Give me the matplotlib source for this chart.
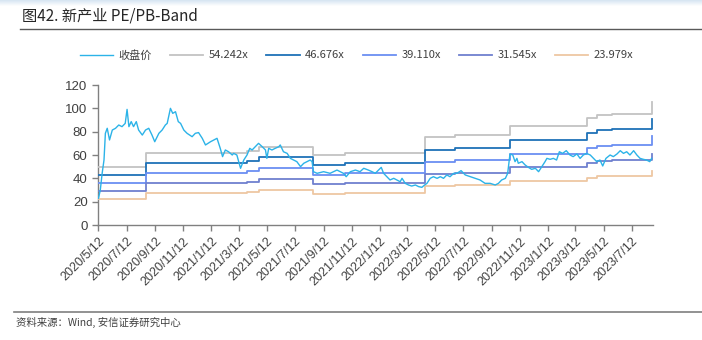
import numpy as np
import pandas as pd
import matplotlib
matplotlib.use("Agg")
import matplotlib.pyplot as plt
import matplotlib.dates as mdates

# Start date of the series; price points are stored as day offsets from it
start = pd.Timestamp("2020-05-12")

# Closing price (收盘价): day offset and value
price_day = [0, 4, 8, 12, 15, 19, 24, 30, 37, 44, 51, 58, 62, 66, 71, 76, 82, 87, 95,
             102, 109, 116, 122, 131, 138, 145, 149, 156, 161, 167, 173, 178, 185, 192,
             203, 210, 217, 225, 232, 243, 250, 257, 264, 269, 275, 282, 290,
             293, 300, 308, 315, 322, 328, 333, 340, 347, 355, 362, 365, 369, 376, 383,
             391, 394, 401, 409, 416, 423, 430, 438, 445, 452, 459, 463, 466, 474, 488,
             502, 517, 531, 537, 546, 557, 567, 575, 585, 593, 600, 607, 613, 618, 625,
             632, 640, 647, 654, 658, 665, 672, 679, 687, 694, 701, 707, 712, 719, 726,
             734, 741, 748, 755, 762, 770, 777, 786, 795, 806, 817, 827, 838, 849, 860,
             867, 874, 882, 887, 892, 898, 903, 907, 910, 918, 925, 932, 939, 947, 954,
             961, 968, 972, 979, 986, 993, 999, 1006, 1014, 1022, 1029, 1037, 1044, 1051,
             1058, 1066, 1073, 1080, 1087, 1093, 1100, 1109, 1116, 1124, 1131, 1138, 1145,
             1152, 1160, 1167, 1174, 1181, 1188, 1195, 1199]
price = [22.9, 30.0, 44.3, 55.7, 78.6, 82.9, 72.9, 81.4, 82.9, 85.7, 84.3, 87.1, 99.1,
         84.3, 88.6, 84.3, 88.6, 81.4, 77.1,
         81.4, 82.9, 77.1, 71.4, 78.6, 81.4, 85.7, 87.1, 100.0, 95.7, 97.1, 88.6, 87.1,
         81.4, 78.6, 75.7, 78.6, 79.2, 74.3, 68.6, 71.4, 72.9, 74.3, 65.7, 58.6, 64.3,
         62.8, 60.0,
         61.4, 60.0, 48.6, 55.7, 60.0, 65.7, 64.3, 67.1, 70.0, 67.1, 64.3, 57.1, 65.7,
         64.3, 65.7, 67.1, 68.6, 62.8, 61.4, 57.1, 55.7, 54.3, 50.0, 52.9, 54.3, 55.7,
         54.3, 45.7, 44.3, 45.7, 44.3, 47.1, 44.3, 41.4, 45.7, 47.1, 45.7, 48.6,
         47.1, 45.7, 44.3, 47.1, 49.4, 44.3, 41.4, 38.6, 40.0, 38.6, 37.1, 40.0, 35.7,
         34.3, 33.4, 34.3, 32.9, 32.3, 34.3, 35.7, 40.0, 41.4, 40.0, 41.4, 40.0, 42.9,
         41.4, 44.3, 44.3, 46.6, 42.9, 41.4, 40.0, 38.6, 35.7, 35.7, 34.3, 35.7, 38.6,
         40.0, 44.3, 60.9, 60.0, 54.3, 57.1, 52.9, 54.3, 51.4, 49.4, 47.7, 48.6, 45.7,
         50.0, 54.3, 57.1, 56.3, 57.1, 55.7, 62.8, 61.4, 63.7, 60.0, 58.6, 60.9, 57.1,
         60.0, 61.4, 60.0, 57.1, 54.3, 55.7, 50.6, 57.1, 60.0, 58.6, 60.9, 63.7, 61.4,
         62.8, 60.0, 63.7, 60.0, 57.1, 56.3, 55.7, 54.3, 57.1]

# Per-share base (EPS) used for the bands, as steps
base_dates = ["2020-05-12", "2020-08-22", "2020-10-15", "2021-03-31", "2021-04-26",
              "2021-08-20", "2021-10-29", "2022-04-20", "2022-06-24", "2022-10-20",
              "2023-04-07", "2023-04-27", "2023-05-30", "2023-08-25"]
base_eps = [0.915, 1.13, 1.145, 1.175, 1.24, 1.105, 1.135, 1.385, 1.415, 1.565,
            1.69, 1.74, 1.76, 1.94]

# Band multiples from the legend
multiples = [54.242, 46.676, 39.110, 31.545, 23.979]
band_labels = ["54.242x", "46.676x", "39.110x", "31.545x", "23.979x"]
band_colors = ["#c3c3c3", "#1f72b8", "#6b8ff2", "#6f80cf", "#eec7a2"]

dates = start + pd.to_timedelta(price_day, unit="D")
bdates = pd.to_datetime(base_dates)
eps = np.array(base_eps)

cjk = ["Noto Sans CJK SC", "DejaVu Sans"]
num_font = ["Liberation Sans", "DejaVu Sans"]

fig = plt.figure(figsize=(7.02, 3.40), dpi=100)
ax = fig.add_axes([98 / 702, 1 - 225 / 340, 555 / 702, 140 / 340])

# Price line
ax.plot(dates, price, color="#2cb3e8", lw=1.0, label="收盘价", zorder=5)

# PE bands
for m, lab, c in zip(multiples, band_labels, band_colors):
    ax.step(bdates, eps * m, where="post", color=c, lw=1.3, label=lab, zorder=3)

ax.set_ylim(0, 120)
ax.set_yticks(range(0, 121, 20))
ax.set_xlim(pd.Timestamp("2020-05-11"), pd.Timestamp("2023-08-27"))
ax.xaxis.set_major_locator(mdates.MonthLocator(bymonth=[1, 3, 5, 7, 9, 11], bymonthday=12))
ax.xaxis.set_major_formatter(mdates.DateFormatter("%Y/%-m/%-d"))

for s in ["top", "right"]:
    ax.spines[s].set_visible(False)
for s in ["left", "bottom"]:
    ax.spines[s].set_color("#808080")
    ax.spines[s].set_linewidth(1.0)

ax.tick_params(axis="both", colors="#808080", length=4, width=1.0, labelsize=9.5,
               labelcolor="#404040")
ax.tick_params(axis="x", labelsize=9)
for lbl in ax.get_yticklabels():
    lbl.set_family(num_font)
for lbl in ax.get_xticklabels():
    lbl.set_family(num_font)
    lbl.set_rotation(45)
    lbl.set_ha("right")
    lbl.set_rotation_mode("anchor")

# Legend across the top
fig.legend(loc="center", bbox_to_anchor=(0.508, 1 - 55 / 340), ncol=6, frameon=False,
           prop={"family": cjk, "size": 8}, handlelength=3.0, handletextpad=0.5,
           columnspacing=1.6, labelcolor="#404040")

# Light header strip
hdr = fig.add_axes([0, 1 - 6 / 340, 1, 6 / 340])
hdr.imshow(np.linspace(0, 1, 50).reshape(-1, 1) * np.ones((1, 10)), aspect="auto",
           cmap=matplotlib.colors.LinearSegmentedColormap.from_list("h", ["#d5e4f2", "#ffffff"]))
hdr.axis("off")

# Title and source
fig.text(22 / 702, 1 - 16 / 340, "图42. 新产业 PE/PB-Band", family=cjk, fontsize=11,
         fontweight="medium", color="#262626", va="center")
fig.add_artist(plt.Line2D([20 / 702, 1.0], [1 - 29 / 340, 1 - 29 / 340], color="#595959", lw=1.0))
fig.add_artist(plt.Line2D([14 / 702, 1.0], [1 - 312 / 340, 1 - 312 / 340], color="#7f7f7f", lw=1.2))
fig.text(16 / 702, 1 - 322 / 340, "资料来源：Wind, 安信证券研究中心", family=cjk, fontsize=7.5,
         color="#404040", va="center")

fig.savefig("out.png", dpi=100)
